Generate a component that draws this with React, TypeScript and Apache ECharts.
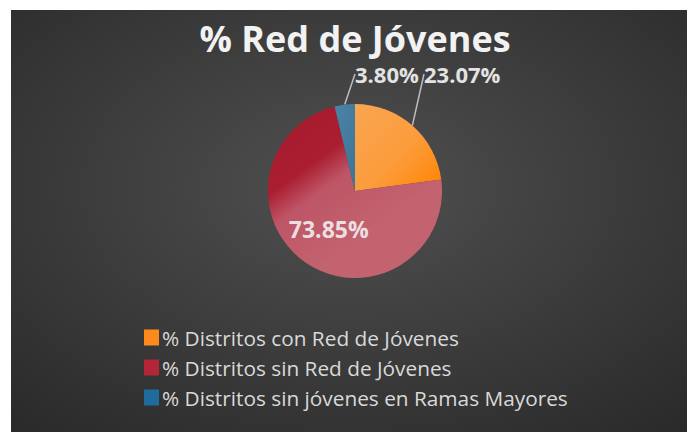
import React, { useEffect, useRef } from "react";
import * as echarts from "echarts";

const title = "% Red de Jóvenes";
const categories = [
  "% Distritos con Red de Jóvenes",
  "% Distritos sin Red de Jóvenes",
  "% Distritos sin jóvenes en Ramas Mayores",
];
const values = [23.07, 73.85, 3.8];
const valueLabels = ["23.07%", "73.85%", "3.80%"];

const sliceColors = [
  new echarts.graphic.LinearGradient(0, 0, 1, 1, [
    { offset: 0, color: "#f9a552" },
    { offset: 0.55, color: "#fc9c3c" },
    { offset: 1, color: "#ff8400" },
  ]),
  new echarts.graphic.LinearGradient(0, 0, 0.55, 0.75, [
    { offset: 0, color: "#a3192b" },
    { offset: 0.45, color: "#ab1e31" },
    { offset: 0.62, color: "#bd5566" },
    { offset: 1, color: "#c3636f" },
  ]),
  new echarts.graphic.LinearGradient(0, 0, 1, 1, [
    { offset: 0, color: "#4b84a6" },
    { offset: 1, color: "#3d7597" },
  ]),
];
const legendColors = ["#ff8a1c", "#b3263a", "#1f6c9c"];

export default function App() {
  const ref = useRef<HTMLDivElement>(null);
  useEffect(() => {
    if (!ref.current) return;
    const chart = echarts.init(ref.current, null, { renderer: "svg" });
    chart.setOption({
      animation: false,
      backgroundColor: "#ffffff",
      graphic: [
        {
          type: "rect",
          z: -10,
          silent: true,
          shape: { x: 11, y: 10, width: 676, height: 422 },
          style: {
            fill: new echarts.graphic.RadialGradient(0.5, 0.42, 0.75, [
              { offset: 0, color: "#505050" },
              { offset: 1, color: "#2a2a2a" },
            ]),
          },
        },
      ],
      title: {
        text: title,
        left: 355,
        textAlign: "center",
        top: 20,
        padding: 0,
        textStyle: {
          color: "#f2f2f2",
          fontFamily: "Open Sans",
          fontWeight: "bold",
          fontSize: 36,
          lineHeight: 36,
        },
      },
      legend: {
        orient: "vertical",
        left: 139,
        top: 322,
        itemWidth: 15,
        itemHeight: 16,
        itemGap: 9,
        icon: "rect",
        textStyle: { color: "#d9d9d9", fontFamily: "Open Sans", fontSize: 20.8, padding: [0, 0, 0, -2] },
        data: categories.map((c, i) => ({ name: c, itemStyle: { color: legendColors[i] } })),
      },
      series: [
        {
          type: "pie",
          center: [355, 191],
          radius: 87,
          startAngle: 90,
          clockwise: true,
          avoidLabelOverlap: false,
          label: {
            show: true,
            fontFamily: "Open Sans",
            fontWeight: "bold",
            fontSize: 22,
            color: "#e3e3e3",
            formatter: (p: any) => valueLabels[p.dataIndex],
          },
          labelLine: {
            show: true,
            length: 18,
            length2: 0,
            lineStyle: { color: "#bdbdbd", width: 1.5 },
          },
          labelLayout: (p: any) => {
            if (p.dataIndex === 0) return { x: 424, y: 74, align: "left", verticalAlign: "middle" };
            if (p.dataIndex === 2) return { x: 355, y: 74, align: "left", verticalAlign: "middle" };
            return {};
          },
          data: categories.map((c, i) => ({
            name: c,
            value: values[i],
            itemStyle: { color: sliceColors[i] },
            label:
              i === 1
                ? { position: "inside", fontSize: 23, color: "#ecdfe1" }
                : { position: "outside" },
            labelLine: i === 1 ? { show: false } : undefined,
          })),
        },
      ],
    });
    return () => chart.dispose();
  }, []);
  return (
    <div
      ref={ref}
      style={{ position: "fixed", left: 0, top: 0, width: 687, height: 432 }}
    />
  );
}
